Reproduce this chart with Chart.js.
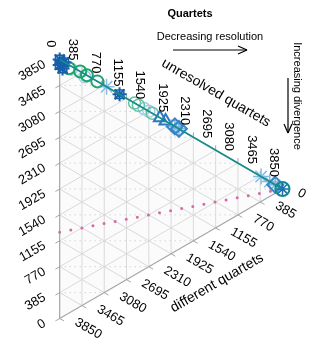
<!DOCTYPE html>
<html>
<head>
<meta charset="utf-8">
<script src="https://cdn.jsdelivr.net/npm/chart.js@4.4.1/dist/chart.umd.min.js"></script>
<style>
    body { margin: 0; background: #ffffff; }
    canvas { display: block; }
</style>
</head>
<body>
<canvas id="quartetChart" width="319" height="353"></canvas>
<script>
// quartet counts: similar + different + unresolved = total
const total = 3850;
const tickValues = [0, 385, 770, 1155, 1540, 1925, 2310, 2695, 3080, 3465, 3850];

// each series: unresolved / different quartets (similar is the rest)
const snowUnresolved = [0, 0, 80, 50, 1035];
const snowDifferent = [0, 80, 0, 110, 0];
const greenUnresolved = [160, 355, 470, 650];
const greenDifferent = [50, 0, 0, 0];
const paleUnresolved = [200, 435, 1460, 1540];
const paleDifferent = [40, 40, 0, 0];
const mintUnresolved = [1295, 1360, 1600];
const mintDifferent = [0, 0, 0];
const skyUnresolved = [810, 3480, 3630];
const skyDifferent = [0, 0, 0];
const triangleUnresolved = [1733, 1830];
const triangleDifferent = [0, 0];
const diamondUnresolved = [1990, 2060, 3725];
const diamondDifferent = [0, 0, 0];
const endUnresolved = [3850];
const endDifferent = [0];

// resolution line and random-tree expectation
const lineUnresolved = [0, 3850];
const lineDifferent = [0, 0];
const randomUnresolved = [0, 3850];
const randomDifferent = [2567, 0];

// page layout of the triangle (pixels)
const plotLeft = 53;
const plotBottom = 327;
const side = 274.5;

function toXY(s, d, r) {
    const sum = s + d + r;
    return { x: (r / sum) * Math.sqrt(3) / 2, y: s / sum + (r / sum) / 2 };
}

function seriesPoints(unresolved, different) {
    return unresolved.map((r, i) => toXY(total - r - different[i], different[i], r));
}

function markerSet(unresolved, different, style, colour, radius, width) {
    return {
        data: seriesPoints(unresolved, different),
        pointStyle: style,
        pointRadius: radius,
        pointBorderColor: colour,
        pointBackgroundColor: 'rgba(0,0,0,0)',
        pointBorderWidth: width,
        showLine: false
    };
}

function drawText(ctx, text, x, y, angle, align) {
    ctx.save();
    ctx.translate(x, y);
    ctx.rotate(angle);
    ctx.textAlign = align;
    ctx.textBaseline = 'middle';
    ctx.fillText(text, 0, 0);
    ctx.restore();
}

function line(ctx, a, b) {
    ctx.beginPath();
    ctx.moveTo(a[0], a[1]);
    ctx.lineTo(b[0], b[1]);
    ctx.stroke();
}

const ternaryPlugin = {
    id: 'ternary',
    beforeDatasetsDraw(chart) {
        const { ctx, scales: { x, y } } = chart;
        const px = (s, d, r) => {
            const p = toXY(s, d, r);
            return [x.getPixelForValue(p.x), y.getPixelForValue(p.y)];
        };
        const top = px(total, 0, 0), left = px(0, total, 0), right = px(0, 0, total);

        ctx.save();
        ctx.beginPath();
        ctx.moveTo(top[0], top[1]);
        ctx.lineTo(right[0], right[1]);
        ctx.lineTo(left[0], left[1]);
        ctx.closePath();
        ctx.fillStyle = '#fbfbfb';
        ctx.fill();

        // horizontal dotted grid
        ctx.strokeStyle = '#c2c2c2';
        ctx.lineWidth = 1;
        ctx.setLineDash([1, 4]);
        for (let k = 1; k < 10; k++) {
            const h = k / 10;
            const xr = Math.sqrt(3) * Math.min(h, 1 - h);
            line(ctx, [x.getPixelForValue(0), y.getPixelForValue(h)], [x.getPixelForValue(xr), y.getPixelForValue(h)]);
        }
        ctx.setLineDash([]);

        ctx.strokeStyle = '#dadada';
        for (let k = 1; k < tickValues.length - 1; k++) {
            const v = tickValues[k];
            line(ctx, px(v, total - v, 0), px(v, 0, total - v));
            line(ctx, px(total - v, v, 0), px(0, v, total - v));
            line(ctx, px(total - v, 0, v), px(0, total - v, v));
        }

        // outline and ticks
        ctx.strokeStyle = '#a6a6a6';
        ctx.lineWidth = 1.2;
        ctx.beginPath();
        ctx.moveTo(top[0], top[1]);
        ctx.lineTo(right[0], right[1]);
        ctx.lineTo(left[0], left[1]);
        ctx.closePath();
        ctx.stroke();
        ctx.lineWidth = 1;
        tickValues.forEach((v) => {
            let p = px(v, total - v, 0);
            line(ctx, p, [p[0] - 4.3, p[1] + 2.5]);
            p = px(total - v, 0, v);
            line(ctx, p, [p[0], p[1] - 5]);
            p = px(0, v, total - v);
            line(ctx, p, [p[0] + 4.3, p[1] + 2.5]);
        });
        ctx.restore();
    },
    afterDraw(chart) {
        const { ctx, scales: { x, y } } = chart;
        const px = (s, d, r) => {
            const p = toXY(s, d, r);
            return [x.getPixelForValue(p.x), y.getPixelForValue(p.y)];
        };
        ctx.save();
        ctx.fillStyle = '#000000';
        ctx.font = '13px "Liberation Sans", Arial, sans-serif';
        tickValues.forEach((v) => {
            let p = px(v, total - v, 0);
            drawText(ctx, String(v), p[0] - 15, p[1] + 4, -Math.PI / 6, 'right');
            p = px(total - v, 0, v);
            drawText(ctx, String(v), p[0] - 9, p[1] - 12, Math.PI / 2, 'right');
            p = px(0, v, total - v);
            drawText(ctx, String(v), p[0] + 16, p[1] + 3, Math.PI / 6, 'left');
        });

        ctx.font = '14px "Liberation Sans", Arial, sans-serif';
        drawText(ctx, 'unresolved quartets', 216, 93, Math.PI / 6, 'center');
        drawText(ctx, 'different quartets', 217, 283, -Math.PI / 6, 'center');

        ctx.font = 'bold 11px "Liberation Sans", Arial, sans-serif';
        drawText(ctx, 'Quartets', 190, 14, 0, 'center');
        ctx.font = '11px "Liberation Sans", Arial, sans-serif';
        drawText(ctx, 'Decreasing resolution', 210, 37, 0, 'center');
        drawText(ctx, 'Increasing divergence', 297, 96, Math.PI / 2, 'center');

        ctx.strokeStyle = '#000000';
        ctx.lineWidth = 1.2;
        line(ctx, [173, 50], [247, 50]);
        line(ctx, [247, 50], [238, 46]);
        line(ctx, [247, 50], [238, 54]);
        line(ctx, [288, 78], [288, 133]);
        line(ctx, [288, 133], [284, 124]);
        line(ctx, [288, 133], [292, 124]);
        ctx.restore();
    }
};

function createQuartetChart() {
    const datasets = [
        {
            data: seriesPoints(lineUnresolved, lineDifferent),
            showLine: true,
            borderColor: '#168c8c',
            borderWidth: 1.6,
            pointRadius: 0
        },
        markerSet(endUnresolved, endDifferent, 'circle', '#13898c', 7, 2),
        markerSet(endUnresolved, endDifferent, 'star', '#1a6fb0', 7, 1.5),
        markerSet(snowUnresolved, snowDifferent, 'star', '#1660aa', 7, 2),
        markerSet(snowUnresolved, snowDifferent, 'rect', '#1660aa', 6, 1.5),
        markerSet(diamondUnresolved, diamondDifferent, 'rectRot', '#3886c8', 8, 2),
        markerSet(diamondUnresolved, diamondDifferent, 'star', '#78b4e0', 7, 1.5),
        markerSet(triangleUnresolved, triangleDifferent, 'triangle', '#2a78c0', 7, 2),
        markerSet(greenUnresolved, greenDifferent, 'circle', '#1ea46e', 6, 2),
        markerSet(mintUnresolved, mintDifferent, 'circle', '#62c4a0', 6, 1.5),
        markerSet(skyUnresolved, skyDifferent, 'star', '#86bde4', 8, 1.5),
        markerSet(paleUnresolved, paleDifferent, 'circle', '#a8cdea', 6, 1.5),
        {
            data: seriesPoints(randomUnresolved, randomDifferent),
            showLine: true,
            borderColor: '#d36aa7',
            borderWidth: 3,
            borderDash: [0, 11.3],
            borderCapStyle: 'round',
            pointRadius: 0
        }
    ];

    const config = {
        type: 'scatter',
        data: { datasets: datasets },
        options: {
            responsive: false,
            animation: false,
            events: [],
            layout: { padding: 0 },
            plugins: {
                legend: { display: false },
                tooltip: { enabled: false }
            },
            scales: {
                x: { type: 'linear', display: false, min: -plotLeft / side, max: (319 - plotLeft) / side },
                y: { type: 'linear', display: false, min: -(353 - plotBottom) / side, max: plotBottom / side }
            }
        },
        plugins: [ternaryPlugin]
    };

    const ctx = document.getElementById('quartetChart').getContext('2d');
    new Chart(ctx, config);
}

createQuartetChart();
</script>
</body>
</html>
